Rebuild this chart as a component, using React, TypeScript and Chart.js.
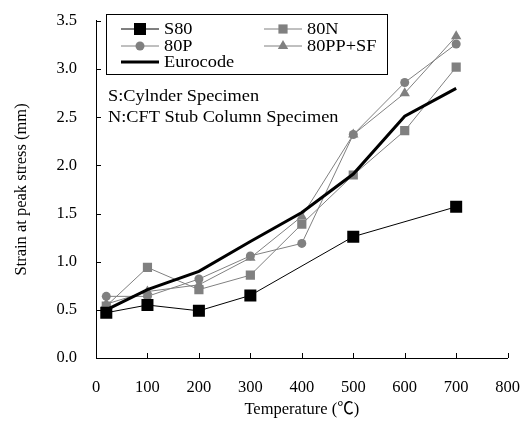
import React, { useEffect, useRef } from "react";
import { Chart, registerables } from "chart.js";

Chart.register(...registerables);

// ---- data ----
const temperatures = [20, 100, 200, 300, 400, 500, 600, 700];
const s80Temperatures = [20, 100, 200, 300, 500, 700];
const s80Values = [0.47, 0.55, 0.49, 0.65, 1.26, 1.57];
const n80Values = [0.54, 0.94, 0.71, 0.86, 1.39, 1.9, 2.36, 3.02];
const p80Values = [0.64, 0.64, 0.82, 1.06, 1.19, 2.32, 2.86, 3.26];
const ppsf80Values = [0.56, 0.69, 0.76, 1.04, 1.47, 2.32, 2.75, 3.34];
const eurocodeValues = [0.5, 0.71, 0.9, 1.21, 1.51, 1.91, 2.51, 2.8];
const seriesLabels = ["S80", "80N", "80P", "80PP+SF", "Eurocode"];
const xTickValues = [0, 100, 200, 300, 400, 500, 600, 700, 800];
const yTickValues = [0, 0.5, 1.0, 1.5, 2.0, 2.5, 3.0, 3.5];
const noteLines = ["S:Cylnder Specimen", "N:CFT Stub Column Specimen"];
const xTitle = "Temperature (\u2103)";
const yTitle = "Strain at peak stress (mm)";

const FONT = "'Liberation Serif', 'Times New Roman', 'Noto Sans CJK SC', serif";
const FSIZE = 16.5;
const GRAY = "#808080";
const TEXT_STRETCH = 1.11;

const pts = (xs: number[], ys: number[]) => xs.map((x, i) => ({ x, y: ys[i] }));

function drawMarker(ctx: CanvasRenderingContext2D, style: string, x: number, y: number, r: number, color: string) {
  ctx.save();
  ctx.fillStyle = color;
  ctx.beginPath();
  if (style === "rect") {
    const s = r * Math.SQRT1_2;
    ctx.rect(x - s, y - s, 2 * s, 2 * s);
  } else if (style === "circle") {
    ctx.arc(x, y, r, 0, Math.PI * 2);
  } else if (style === "triangle") {
    ctx.moveTo(x, y - r);
    ctx.lineTo(x + r * Math.cos(Math.PI / 6), y + r * Math.sin(Math.PI / 6));
    ctx.lineTo(x - r * Math.cos(Math.PI / 6), y + r * Math.sin(Math.PI / 6));
    ctx.closePath();
  }
  ctx.fill();
  ctx.restore();
}

function stretchedText(ctx: CanvasRenderingContext2D, t: string, x: number, y: number) {
  ctx.save();
  ctx.translate(x, y);
  ctx.scale(TEXT_STRETCH, 1);
  ctx.fillText(t, 0, 0);
  ctx.restore();
}

const decorPlugin = {
  id: "decor",
  afterDraw(chart: any) {
    const { ctx, chartArea, scales } = chart;
    const xs = scales.x;
    const ys = scales.y;
    ctx.save();
    // inner tick marks
    ctx.strokeStyle = "#000";
    ctx.lineWidth = 1;
    yTickValues.forEach((v) => {
      const py = Math.round(ys.getPixelForValue(v)) + 0.5;
      ctx.beginPath();
      ctx.moveTo(chartArea.left, py);
      ctx.lineTo(chartArea.left + 5, py);
      ctx.stroke();
    });
    xTickValues.forEach((v) => {
      const px = Math.round(xs.getPixelForValue(v)) + 0.5;
      ctx.beginPath();
      ctx.moveTo(px, chartArea.bottom);
      ctx.lineTo(px, chartArea.bottom - 5);
      ctx.stroke();
    });

    // legend box
    const bx = 106.5, by = 14.5, bw = 281, bh = 60;
    ctx.fillStyle = "#fff";
    ctx.fillRect(bx, by, bw, bh);
    ctx.strokeStyle = "#000";
    ctx.lineWidth = 1;
    ctx.strokeRect(bx, by, bw, bh);

    const cols = [121, 264];
    const rows = [29, 46, 62];
    const ds = chart.data.datasets;
    const layout = [
      [0, 0, 0],
      [1, 1, 0],
      [2, 0, 1],
      [3, 1, 1],
      [4, 0, 2],
    ];
    ctx.font = `${FSIZE}px ${FONT}`;
    ctx.textBaseline = "middle";
    ctx.textAlign = "left";
    layout.forEach(([i, c, r]) => {
      const d = ds[i];
      const x0 = cols[c];
      const y0 = rows[r];
      ctx.strokeStyle = d.borderColor;
      ctx.lineWidth = d.borderWidth;
      ctx.beginPath();
      ctx.moveTo(x0, y0);
      ctx.lineTo(x0 + 38, y0);
      ctx.stroke();
      if (d.pointRadius > 0) {
        drawMarker(ctx, d.pointStyle, x0 + 19, y0, d.pointRadius, d.pointBackgroundColor);
      }
      ctx.fillStyle = "#000";
      stretchedText(ctx, d.label, x0 + 43, y0 + 1);
    });

    // notes
    ctx.fillStyle = "#000";
    noteLines.forEach((t, i) => {
      stretchedText(ctx, t, 108, 97 + i * 21);
    });
    ctx.restore();
  },
};

export default function App() {
  const ref = useRef<HTMLCanvasElement | null>(null);
  useEffect(() => {
    if (!ref.current) return;
    const chart = new Chart(ref.current, {
      type: "line",
      data: {
        datasets: [
          {
            label: seriesLabels[0],
            data: pts(s80Temperatures, s80Values),
            borderColor: "#000",
            borderWidth: 1,
            pointStyle: "rect",
            pointRadius: 8.5,
            pointBackgroundColor: "#000",
            pointBorderWidth: 0,
            order: 2,
          },
          {
            label: seriesLabels[1],
            data: pts(temperatures, n80Values),
            borderColor: GRAY,
            borderWidth: 1,
            pointStyle: "rect",
            pointRadius: 6.5,
            pointBackgroundColor: GRAY,
            pointBorderWidth: 0,
            order: 3,
          },
          {
            label: seriesLabels[2],
            data: pts(temperatures, p80Values),
            borderColor: GRAY,
            borderWidth: 1,
            pointStyle: "circle",
            pointRadius: 4.5,
            pointBackgroundColor: GRAY,
            pointBorderWidth: 0,
            order: 4,
          },
          {
            label: seriesLabels[3],
            data: pts(temperatures, ppsf80Values),
            borderColor: GRAY,
            borderWidth: 1,
            pointStyle: "triangle",
            pointRadius: 6,
            pointBackgroundColor: GRAY,
            pointBorderWidth: 0,
            order: 5,
          },
          {
            label: seriesLabels[4],
            data: pts(temperatures, eurocodeValues),
            borderColor: "#000",
            borderWidth: 3,
            pointRadius: 0,
            pointBackgroundColor: "#000",
            order: 1,
          },
        ],
      },
      options: {
        animation: false,
        responsive: false,
        maintainAspectRatio: false,
        layout: { padding: { top: 14, right: 16, bottom: 0, left: 0 } },
        plugins: { legend: { display: false }, tooltip: { enabled: false } },
        elements: { line: { tension: 0 } },
        scales: {
          x: {
            type: "linear",
            min: 0,
            max: 800,
            ticks: {
              stepSize: 100,
              padding: 12,
              color: "#000",
              font: { family: FONT, size: FSIZE },
              maxRotation: 0,
            },
            grid: { display: false },
            border: { display: true, color: "#000", width: 1 },
            title: {
              display: true,
              text: xTitle,
              color: "#000",
              font: { family: FONT, size: FSIZE },
              padding: { top: 0, bottom: 5 },
            },
            afterFit: (s: any) => {
              s.height = 67;
            },
          },
          y: {
            type: "linear",
            min: 0,
            max: 3.5,
            ticks: {
              stepSize: 0.5,
              padding: 11,
              color: "#000",
              font: { family: FONT, size: FSIZE },
              callback: (v: any) => Number(v).toFixed(1),
            },
            grid: { display: false },
            border: { display: true, color: "#000", width: 1 },
            title: {
              display: true,
              text: yTitle,
              color: "#000",
              font: { family: FONT, size: FSIZE },
              padding: { top: 12, bottom: 0 },
            },
            afterFit: (s: any) => {
              s.width = 96;
            },
          },
        },
      },
      plugins: [decorPlugin],
    } as any);
    return () => chart.destroy();
  }, []);
  return (
    <div style={{ position: "absolute", left: 0, top: 0, width: 532, height: 425, background: "#fff" }}>
      <canvas ref={ref} width={532} height={425} style={{ display: "block" }} />
    </div>
  );
}
